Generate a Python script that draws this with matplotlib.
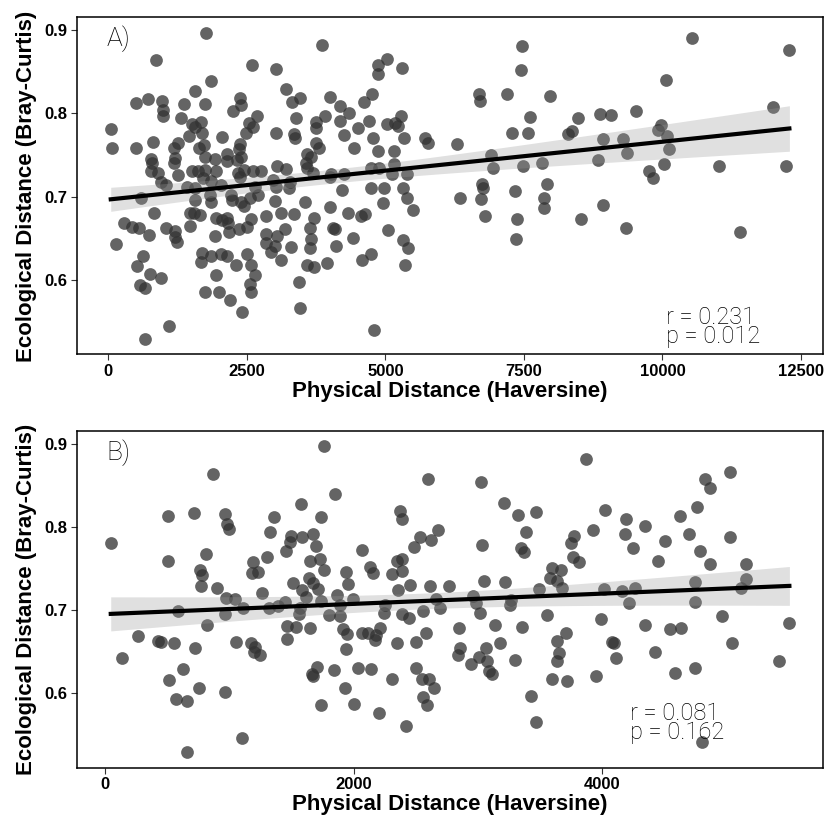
import numpy as np
import matplotlib.pyplot as plt

# Panel A: all pairs (physical distance vs ecological distance)
dist_a = [1769, 3863, 861, 2594, 3027, 1854, 1570, 3207, 505, 711,
          964, 993, 993, 1361, 1740, 2372, 2390, 2256, 3316, 3466,
          4007, 1318, 1516, 1679, 1560, 1697, 2684, 2534, 2617, 2485,
          3388, 3754, 3917, 3749, 43, 72, 505, 812, 1258, 1180,
          1457, 1727, 1637, 2058, 2377, 2359, 3032, 3352, 3365, 3749,
          3798, 765, 789, 1199, 1180, 1740, 1931, 2143, 2143, 2328,
          2401, 3040, 3213, 3592, 3664, 3574, 3592, 765, 897, 1258,
          1511, 1619, 1740, 1949, 2341, 2444, 2612, 2762, 3695, 4025,
          957, 1047, 1709, 1859, 2029, 2372, 2973, 3032, 3256, 3280,
          3996, 1426, 1570, 1830, 1560, 1859, 2209, 2233, 2401, 2444,
          2653, 2702, 2552, 596, 825, 278, 433, 554, 729, 1047,
          1199, 1209, 1235, 1469, 1469, 1547, 1650, 1939, 2058, 2143,
          2161, 2173, 1931, 2359, 2509, 2581, 2852, 3123, 3352, 3014,
          3556, 3996, 3713, 3635, 4056, 3653, 3635, 4110, 2852, 2841,
          3004, 3050, 3184, 2931, 3112, 3292, 134, 626, 518, 758,
          957, 578, 657, 1697, 1668, 1848, 2029, 2143, 2504, 2310,
          2581, 2643, 1939, 2563, 2581, 1740, 2004, 2202, 2419, 3437,
          3460, 3592, 3713, 3942, 1101, 668,
          4182, 4182, 4345, 4621, 4765, 4863, 4863, 5031, 5307, 4706,
          4507, 4249, 4440, 4783, 5025, 5175, 5235, 5283, 5337, 5711,
          5776, 6299, 4868, 5157, 4747, 4892, 5157, 5397, 6691, 6709,
          7191, 7462, 7444, 7612, 7973, 7281, 7576, 6913, 6949, 7491,
          7834, 4254, 5115, 4213, 4736, 4976, 5325, 5386, 4964, 5505,
          4332, 4556, 4633, 4092, 4422, 5043, 5325, 5415, 4585, 4736,
          5355, 4796, 6348, 6740, 6769, 6722, 6799, 7341, 7913, 7864,
          7864, 7382, 7359,
          10536, 12292, 10066, 12003, 8473, 8875, 9068, 9525, 8364, 8303,
          8924, 9296, 9976, 9917, 10079, 10126, 9368, 8834, 10036, 9765,
          9826, 11023, 12233, 8924, 8532, 9345, 11402]
eco_a = [0.897, 0.882, 0.864, 0.858, 0.854, 0.839, 0.827, 0.829, 0.813, 0.818,
         0.815, 0.804, 0.797, 0.812, 0.812, 0.819, 0.810, 0.803, 0.814, 0.819,
         0.820, 0.795, 0.787, 0.790, 0.784, 0.777, 0.797, 0.788, 0.784, 0.777,
         0.794, 0.790, 0.797, 0.782, 0.781, 0.758, 0.759, 0.766, 0.764, 0.758,
         0.773, 0.762, 0.759, 0.772, 0.763, 0.757, 0.777, 0.775, 0.771, 0.764,
         0.759, 0.745, 0.740, 0.747, 0.741, 0.748, 0.745, 0.751, 0.743, 0.744,
         0.748, 0.737, 0.733, 0.751, 0.748, 0.741, 0.735, 0.731, 0.728, 0.726,
         0.731, 0.731, 0.732, 0.731, 0.729, 0.732, 0.731, 0.731, 0.729, 0.727,
         0.718, 0.714, 0.723, 0.719, 0.714, 0.724, 0.720, 0.712, 0.710, 0.718,
         0.724, 0.712, 0.710, 0.702, 0.696, 0.694, 0.702, 0.696, 0.694, 0.689,
         0.712, 0.702, 0.698, 0.699, 0.681, 0.669, 0.664, 0.662, 0.654, 0.663,
         0.659, 0.652, 0.646, 0.665, 0.680, 0.680, 0.678, 0.675, 0.672, 0.674,
         0.668, 0.658, 0.653, 0.661, 0.664, 0.673, 0.677, 0.681, 0.679, 0.695,
         0.694, 0.688, 0.674, 0.663, 0.662, 0.649, 0.639, 0.641, 0.655, 0.645,
         0.641, 0.653, 0.661, 0.634, 0.624, 0.640, 0.643, 0.629, 0.617, 0.607,
         0.602, 0.594, 0.590, 0.633, 0.622, 0.629, 0.631, 0.629, 0.631, 0.618,
         0.618, 0.606, 0.606, 0.595, 0.586, 0.586, 0.586, 0.576, 0.561, 0.597,
         0.566, 0.618, 0.616, 0.621, 0.545, 0.529,
         0.809, 0.791, 0.801, 0.814, 0.824, 0.858, 0.847, 0.866, 0.855, 0.791,
         0.783, 0.774, 0.759, 0.771, 0.787, 0.788, 0.785, 0.797, 0.771, 0.771,
         0.764, 0.763, 0.755, 0.755, 0.735, 0.735, 0.739, 0.727, 0.823, 0.815,
         0.823, 0.881, 0.852, 0.796, 0.821, 0.776, 0.776, 0.750, 0.735, 0.737,
         0.740, 0.727, 0.727, 0.708, 0.710, 0.711, 0.711, 0.699, 0.693, 0.684,
         0.681, 0.677, 0.679, 0.661, 0.651, 0.660, 0.648, 0.639, 0.624, 0.631,
         0.618, 0.540, 0.699, 0.715, 0.710, 0.697, 0.677, 0.707, 0.715, 0.698,
         0.687, 0.673, 0.649,
         0.891, 0.876, 0.840, 0.808, 0.795, 0.799, 0.798, 0.803, 0.779, 0.775,
         0.769, 0.769, 0.786, 0.780, 0.773, 0.757, 0.752, 0.744, 0.739, 0.731,
         0.722, 0.737, 0.737, 0.690, 0.673, 0.662, 0.658]

# Panel B: short-range subset
dist_b = [1762, 863, 1851, 506, 712, 964, 977, 991, 1573, 1358,
          1738, 43, 1321, 1497, 1486, 1586, 1667, 1695, 1456, 506,
          806, 1188, 1302, 1643, 1730, 1756, 761, 780, 1180, 1229,
          1640, 769, 896, 969, 1045, 1264, 1510, 1586, 1667, 1708,
          1618, 1735, 1868, 587, 964, 1107, 1315, 1389, 1443, 1565,
          1559, 1803, 814, 260, 422, 449, 550, 132, 725, 1050,
          1175, 1207, 1196, 1248, 1464, 1532, 1643, 1459, 625, 514,
          755, 571, 658, 961, 1705, 1659, 1673, 1843, 1738, 1099,
          659,
          2598, 3023, 3207, 3324, 3465, 3388, 3348, 3367, 3031, 3749,
          3760, 2369, 2385, 2680, 2533, 2623, 2485, 2065, 2347, 2390,
          2390, 2309, 2127, 2157, 1935, 3591, 3665,
          1954, 1995, 2455, 2355, 2612, 2766, 3045, 3213, 3492, 3578,
          3632, 3673, 1886, 1886, 2252, 2239, 2387, 2442, 2555, 2658,
          2693, 2961, 2982, 3015, 3262, 3259, 3554, 1914, 1946, 2062,
          2117, 2179, 2211, 2171, 2349, 2503, 2582, 2848, 3137, 3354,
          3711, 1935, 2856, 2834, 3061, 3175, 3010, 3072, 2942, 3086,
          3110, 3299, 3635, 3652, 3635,
          2030, 2138, 2503, 2550, 2604, 2306, 2647, 1930, 2560, 2588,
          2000, 2203, 2420, 3597, 3719, 3429, 3465,
          3868, 4829, 4870, 5029, 4017, 4187, 4184, 4344, 4626, 4761,
          4701, 4504, 4247, 3924, 3773, 3814, 4788, 4444, 4866, 5029,
          5159, 5159, 5116, 4742, 4742, 4011, 4160, 4263, 4214, 3989,
          4342, 4547, 4634, 4961, 5505, 4076, 4092, 4106, 4423, 5040,
          5418, 3949, 4585, 4742, 4805]
eco_b = [0.897, 0.863, 0.839, 0.813, 0.817, 0.815, 0.803, 0.797, 0.827, 0.812,
         0.812, 0.781, 0.794, 0.789, 0.782, 0.788, 0.791, 0.777, 0.771, 0.759,
         0.767, 0.758, 0.764, 0.759, 0.761, 0.748, 0.748, 0.742, 0.744, 0.746,
         0.738, 0.729, 0.726, 0.715, 0.713, 0.721, 0.733, 0.724, 0.732, 0.725,
         0.716, 0.711, 0.718, 0.699, 0.695, 0.702, 0.702, 0.705, 0.710, 0.703,
         0.695, 0.694, 0.682, 0.669, 0.663, 0.662, 0.661, 0.643, 0.654, 0.662,
         0.660, 0.656, 0.650, 0.646, 0.681, 0.680, 0.678, 0.665, 0.629, 0.616,
         0.606, 0.593, 0.591, 0.602, 0.632, 0.623, 0.621, 0.628, 0.586, 0.546,
         0.529,
         0.858, 0.854, 0.829, 0.814, 0.818, 0.794, 0.774, 0.770, 0.778, 0.781,
         0.764, 0.819, 0.809, 0.796, 0.788, 0.784, 0.776, 0.772, 0.759, 0.761,
         0.747, 0.743, 0.752, 0.744, 0.746, 0.751, 0.748,
         0.731, 0.713, 0.730, 0.724, 0.729, 0.729, 0.735, 0.734, 0.725, 0.738,
         0.735, 0.726, 0.706, 0.693, 0.706, 0.697, 0.695, 0.691, 0.699, 0.713,
         0.703, 0.717, 0.708, 0.696, 0.712, 0.706, 0.694, 0.677, 0.671, 0.672,
         0.673, 0.670, 0.678, 0.664, 0.660, 0.662, 0.672, 0.678, 0.682, 0.680,
         0.673, 0.653, 0.655, 0.646, 0.655, 0.661, 0.644, 0.639, 0.635, 0.627,
         0.623, 0.640, 0.663, 0.649, 0.639,
         0.631, 0.629, 0.631, 0.617, 0.617, 0.617, 0.606, 0.606, 0.595, 0.586,
         0.587, 0.576, 0.561, 0.617, 0.615, 0.597, 0.566,
         0.882, 0.857, 0.847, 0.866, 0.820, 0.809, 0.791, 0.801, 0.813, 0.824,
         0.791, 0.783, 0.774, 0.796, 0.789, 0.758, 0.771, 0.759, 0.755, 0.788,
         0.755, 0.737, 0.727, 0.734, 0.710, 0.725, 0.723, 0.727, 0.708, 0.689,
         0.682, 0.677, 0.679, 0.693, 0.684, 0.662, 0.660, 0.642, 0.650, 0.660,
         0.639, 0.621, 0.624, 0.631, 0.542]

panel_tags = ["A)", "B)"]
stats_text = ["r = 0.231\np = 0.012", "r = 0.081\np = 0.162"]
xticks_a = [0, 2500, 5000, 7500, 10000, 12500]
xticks_b = [0, 2000, 4000]
yticks = [0.6, 0.7, 0.8, 0.9]

BOLD = ['Liberation Sans', 'DejaVu Sans']
LIGHT = ['Roboto', 'DejaVu Sans']


def lm_band(x, y, n=80):
    # linear fit with 95% confidence band, like geom_smooth(method = "lm")
    x = np.asarray(x, float)
    y = np.asarray(y, float)
    slope, icpt = np.polyfit(x, y, 1)
    xs = np.linspace(x.min(), x.max(), n)
    fit = icpt + slope * xs
    resid = y - (icpt + slope * x)
    s = np.sqrt(np.sum(resid ** 2) / (len(x) - 2))
    se = s * np.sqrt(1 / len(x) + (xs - x.mean()) ** 2 / np.sum((x - x.mean()) ** 2))
    return xs, fit, 1.97 * se


def expand(vals, frac=0.05):
    lo, hi = min(vals), max(vals)
    pad = (hi - lo) * frac
    return lo - pad, hi + pad


fig = plt.figure(figsize=(8.35, 8.3), dpi=100)
ax_a = fig.add_axes([0.092, 0.573, 0.894, 0.406])
ax_b = fig.add_axes([0.092, 0.075, 0.894, 0.406])

ylim = expand(eco_a + eco_b)

panels = [(ax_a, dist_a, eco_a, xticks_a), (ax_b, dist_b, eco_b, xticks_b)]
for i, (ax, xd, yd, xt) in enumerate(panels):
    ax.scatter(xd, yd, s=84, color='#333333', alpha=0.76, linewidths=0, zorder=2)
    xs, fit, ci = lm_band(xd, yd)
    ax.fill_between(xs, fit - ci, fit + ci, color='#999999', alpha=0.3,
                    linewidth=0, zorder=3)
    ax.plot(xs, fit, color='black', lw=3, zorder=4)

    ax.set_xlim(*expand(xd))
    ax.set_ylim(*ylim)
    ax.set_xticks(xt)
    ax.set_yticks(yticks)
    ax.set_yticklabels([f"{v:.1f}" for v in yticks])
    ax.tick_params(length=4, width=0.8, color='#333333', labelsize=12, pad=3)
    for lab in ax.get_xticklabels() + ax.get_yticklabels():
        lab.set_family(BOLD)
        lab.set_fontweight('bold')
    for sp in ax.spines.values():
        sp.set_linewidth(1.1)
        sp.set_color('black')

    ax.set_xlabel('Physical Distance (Haversine)', family=BOLD,
                  fontweight='bold', fontsize=16, labelpad=1)
    ax.set_ylabel('Ecological Distance (Bray-Curtis)', family=BOLD,
                  fontweight='bold', fontsize=16, labelpad=5)

    ax.text(0.040, 0.975, panel_tags[i], transform=ax.transAxes, ha='left',
            va='top', family=LIGHT, fontweight='light', fontsize=19)

stat_pos = [(0.789, 0.145), (0.741, 0.195)]
for ax, txt, (px, py) in zip([ax_a, ax_b], stats_text, stat_pos):
    ax.text(px, py, txt, transform=ax.transAxes, ha='left', va='top',
            family=LIGHT, fontweight='light', fontsize=17, linespacing=0.78)

fig.savefig('out.png', dpi=100)
